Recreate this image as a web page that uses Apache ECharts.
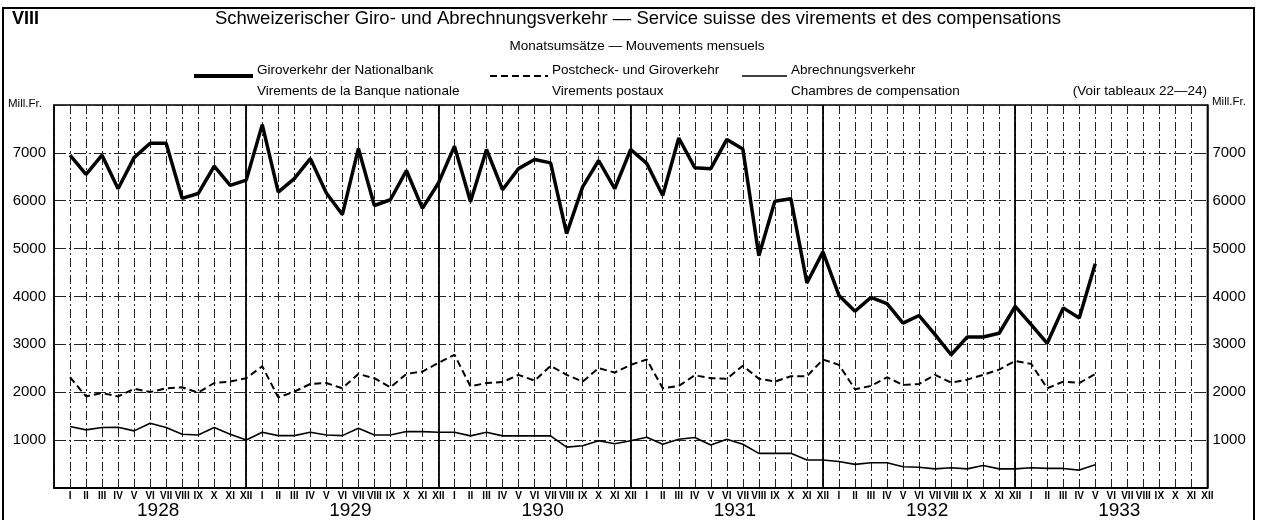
<!DOCTYPE html>
<html><head><meta charset="utf-8">
<script src="https://cdn.jsdelivr.net/npm/echarts@6/dist/echarts.min.js"></script>
<style>html,body{margin:0;padding:0;background:#fff}#c{width:1264px;height:520px}</style>
</head><body><div id="c"></div>
<script>
// ---- data ----
const monthLabels = ['I','II','III','IV','V','VI','VII','VIII','IX','X','XI','XII'];
const years = ['1928','1929','1930','1931','1932','1933'];
const yTicks = [1000,2000,3000,4000,5000,6000,7000];
// Giroverkehr der Nationalbank (Mill. Fr.), Jan 1928 - May 1933
const giro = [
  6950,6550,6950,6250,6900,7200,7200,6050,6150,6720,6320,6430,
  7590,6180,6460,6880,6160,5710,7090,5900,6020,6630,5840,6370,
  7140,5980,7070,6230,6670,6860,6790,5310,6290,6840,6250,7070,
  6780,6110,7310,6690,6670,7280,7080,4850,5990,6040,4280,4930,
  4020,3690,3980,3850,3440,3600,3200,2780,3150,3150,3230,3790,
  3410,3020,3760,3550,4680
];
// Postcheck- und Giroverkehr
const postcheck = [
  2310,1910,1980,1910,2070,2000,2080,2100,1990,2190,2220,2290,
  2540,1890,2010,2170,2190,2080,2380,2290,2100,2380,2430,2610,
  2780,2120,2190,2210,2360,2240,2550,2360,2220,2500,2410,2570,
  2680,2080,2130,2350,2290,2280,2550,2280,2220,2330,2330,2680,
  2570,2060,2130,2310,2150,2170,2360,2200,2260,2360,2470,2650,
  2590,2080,2220,2190,2380
];
// Abrechnungsverkehr
const abrechnung = [
  1280,1210,1260,1265,1190,1350,1260,1120,1105,1260,1120,1000,
  1160,1090,1090,1160,1105,1090,1245,1105,1105,1175,1175,1160,
  1160,1085,1160,1085,1085,1085,1085,850,880,985,920,985,
  1055,910,1015,1050,895,1015,910,720,720,720,580,580,
  550,490,525,525,440,430,395,420,395,465,395,395,
  420,405,405,370,480
];
const legendDe = ['Giroverkehr der Nationalbank','Postcheck- und Giroverkehr','Abrechnungsverkehr'];
const legendFr = ['Virements de la Banque nationale','Virements postaux','Chambres de compensation'];

// ---- chart ----
const FONT = "'Liberation Sans', Arial, sans-serif";
const NARROW = "'Liberation Sans Narrow', 'Liberation Sans', Arial, sans-serif";
const nMonths = years.length * 12;
const toPts = arr => arr.map((v, i) => [i, v]);
const decLines = years.slice(0, -1).map((_, k) => ({ xAxis: 12 * k + 11 }));

const chart = echarts.init(document.getElementById('c'), null, { renderer: 'canvas' });

const legendX = [194, 490, 742];
const legendTextX = [257, 552, 791];
const legendGraphics = [];
[ {w:4, dash:null}, {w:2, dash:[7,4]}, {w:1.6, dash:null} ].forEach((s, k) => {
  legendGraphics.push({
    type: 'line', shape: { x1: legendX[k], y1: 76, x2: legendTextX[k] - 4, y2: 76 },
    style: { stroke: '#000', lineWidth: s.w, lineDash: s.dash }
  });
  legendGraphics.push({ type: 'text', x: legendTextX[k], y: 70,
    style: { text: legendDe[k], font: '500 13.5px ' + FONT, fill: '#000', textVerticalAlign: 'middle' } });
  legendGraphics.push({ type: 'text', x: legendTextX[k], y: 91,
    style: { text: legendFr[k], font: '500 13.5px ' + FONT, fill: '#000', textVerticalAlign: 'middle' } });
});

const yAxisBase = {
  type: 'value', min: 0, max: 8000, interval: 1000,
  axisLine: { show: true, onZero: false, lineStyle: { color: '#000', width: 1.5 } },
  axisTick: { show: false }
};

const option = {
  animation: false,
  backgroundColor: '#fff',
  grid: { left: 54, right: 56.6, top: 105, bottom: 32.2, show: true, borderColor: '#000', borderWidth: 1.5 },
  xAxis: [
    {
      type: 'value', min: -1, max: nMonths - 1, interval: 1, position: 'bottom',
      axisLine: { show: true, onZero: false, lineStyle: { color: '#000', width: 2 } },
      axisTick: { show: false },
      axisLabel: {
        margin: 3, fontSize: 10, fontWeight: 'bold', color: '#000', fontFamily: NARROW,
        formatter: v => (v >= 0 ? monthLabels[v % 12] : '')
      },
      splitLine: { show: true, lineStyle: { color: '#222', width: 1, type: [9, 3, 2, 3] } }
    },
    {
      type: 'value', min: -1, max: nMonths - 1, interval: 0.5, position: 'bottom',
      axisLine: { show: false, onZero: false }, axisTick: { show: false }, splitLine: { show: false },
      axisLabel: {
        margin: 13, fontSize: 19, color: '#000', fontFamily: FONT,
        formatter: v => {
          const k = (v - 5.5) / 12;
          return (Number.isInteger(k) && k >= 0 && k < years.length) ? years[k] : '';
        }
      }
    }
  ],
  yAxis: [
    Object.assign({}, yAxisBase, {
      position: 'left',
      axisLabel: { margin: 8, fontSize: 15, color: '#000', fontFamily: FONT,
        formatter: v => (yTicks.includes(v) ? String(v) : '') },
      splitLine: { show: true, lineStyle: { color: '#222', width: 1, type: [12, 3, 2, 3] } }
    }),
    Object.assign({}, yAxisBase, {
      position: 'right',
      axisLabel: { margin: 5, fontSize: 15, color: '#000', fontFamily: FONT,
        formatter: v => (yTicks.includes(v) ? String(v) : '') },
      splitLine: { show: false }
    })
  ],
  series: [
    {
      name: legendDe[0], type: 'line', data: toPts(giro), symbol: 'none', z: 5,
      lineStyle: { color: '#000', width: 3.5 },
      markLine: { silent: true, symbol: 'none', label: { show: false },
        lineStyle: { color: '#000', width: 1.8, type: 'solid' }, data: decLines }
    },
    {
      name: legendDe[1], type: 'line', data: toPts(postcheck), symbol: 'none', z: 4,
      lineStyle: { color: '#000', width: 2, type: [7, 4] }
    },
    {
      name: legendDe[2], type: 'line', data: toPts(abrechnung), symbol: 'none', z: 4,
      lineStyle: { color: '#000', width: 1.6 }
    }
  ],
  graphic: [
    { type: 'rect', shape: { x: 3, y: 8, width: 1251, height: 530 },
      style: { fill: 'none', stroke: '#000', lineWidth: 2 } },
    { type: 'text', x: 12, y: 19, style: { text: 'VIII', font: 'bold 18px ' + NARROW, fill: '#000', textVerticalAlign: 'middle' } },
    { type: 'text', x: 638, y: 19, style: { text: 'Schweizerischer Giro- und Abrechnungsverkehr — Service suisse des virements et des compensations',
      font: '18.5px ' + FONT, fill: '#000', textAlign: 'center', textVerticalAlign: 'middle' } },
    { type: 'text', x: 637, y: 46, style: { text: 'Monatsumsätze — Mouvements mensuels',
      font: '500 13.5px ' + FONT, fill: '#000', textAlign: 'center', textVerticalAlign: 'middle' } },
    ...legendGraphics,
    { type: 'text', x: 1207, y: 91, style: { text: '(Voir tableaux 22—24)', font: '500 13.5px ' + FONT, fill: '#000', textAlign: 'right', textVerticalAlign: 'middle' } },
    { type: 'text', x: 8, y: 104, style: { text: 'Mill.Fr.', font: '11.5px ' + NARROW, fill: '#000', textVerticalAlign: 'middle' } },
    { type: 'text', x: 1212, y: 102, style: { text: 'Mill.Fr.', font: '11.5px ' + NARROW, fill: '#000', textVerticalAlign: 'middle' } }
  ]
};
chart.setOption(option);
</script>
</body></html>
